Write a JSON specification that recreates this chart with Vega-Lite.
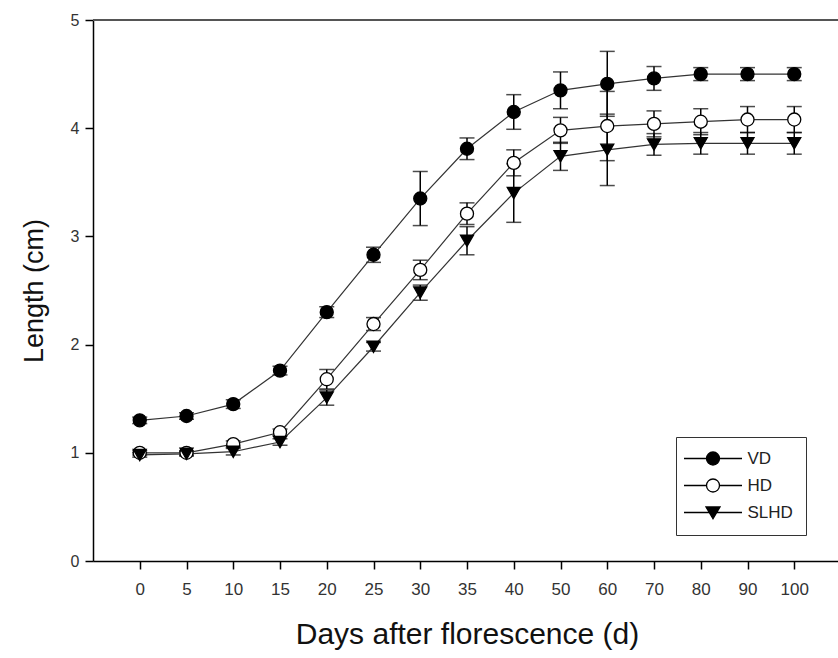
{
  "$schema": "https://vega.github.io/schema/vega-lite/v6.json",
  "width": 748,
  "height": 541,
  "autosize": "none",
  "padding": {"left": 93, "top": 20, "right": 0, "bottom": 97},
  "background": "white",
  "config": {
    "view": {"stroke": null},
    "font": "Liberation Sans",
    "axis": {
      "grid": false,
      "domainColor": "black",
      "domainWidth": 1.5,
      "tickColor": "black",
      "tickWidth": 1.5,
      "tickSize": 8,
      "labelFont": "Liberation Sans",
      "labelColor": "#333",
      "titleFont": "Liberation Sans",
      "titleFontWeight": "normal",
      "titleColor": "#111"
    },
    "legend": {
      "title": null, "orient": "none", "legendX": 583, "legendY": 417,
      "strokeColor": "#333", "padding": 13, "symbolSize": 169, "symbolOffset": 15.5,
      "labelOffset": 26, "labelFontSize": 17, "labelColor": "#222", "labelFont": "Liberation Sans", "rowPadding": 8
    }
  },
  "resolve": {"scale": {"shape": "independent", "fill": "independent", "stroke": "independent"}},
  "data": {
    "values": [
      {"day": 0, "series": "VD", "len": 1.30, "err": 0.03},
      {"day": 5, "series": "VD", "len": 1.34, "err": 0.03},
      {"day": 10, "series": "VD", "len": 1.45, "err": 0.04},
      {"day": 15, "series": "VD", "len": 1.76, "err": 0.04},
      {"day": 20, "series": "VD", "len": 2.30, "err": 0.05},
      {"day": 25, "series": "VD", "len": 2.83, "err": 0.07},
      {"day": 30, "series": "VD", "len": 3.35, "err": 0.25},
      {"day": 35, "series": "VD", "len": 3.81, "err": 0.10},
      {"day": 40, "series": "VD", "len": 4.15, "err": 0.16},
      {"day": 50, "series": "VD", "len": 4.35, "err": 0.17},
      {"day": 60, "series": "VD", "len": 4.41, "err": 0.30},
      {"day": 70, "series": "VD", "len": 4.46, "err": 0.11},
      {"day": 80, "series": "VD", "len": 4.50, "err": 0.06},
      {"day": 90, "series": "VD", "len": 4.50, "err": 0.06},
      {"day": 100, "series": "VD", "len": 4.50, "err": 0.06},
      {"day": 0, "series": "HD", "len": 1.00, "err": 0.02},
      {"day": 5, "series": "HD", "len": 1.00, "err": 0.02},
      {"day": 10, "series": "HD", "len": 1.08, "err": 0.03},
      {"day": 15, "series": "HD", "len": 1.19, "err": 0.03},
      {"day": 20, "series": "HD", "len": 1.68, "err": 0.09},
      {"day": 25, "series": "HD", "len": 2.19, "err": 0.06},
      {"day": 30, "series": "HD", "len": 2.69, "err": 0.09},
      {"day": 35, "series": "HD", "len": 3.21, "err": 0.10},
      {"day": 40, "series": "HD", "len": 3.68, "err": 0.12},
      {"day": 50, "series": "HD", "len": 3.98, "err": 0.12},
      {"day": 60, "series": "HD", "len": 4.02, "err": 0.32},
      {"day": 70, "series": "HD", "len": 4.04, "err": 0.12},
      {"day": 80, "series": "HD", "len": 4.06, "err": 0.12},
      {"day": 90, "series": "HD", "len": 4.08, "err": 0.12},
      {"day": 100, "series": "HD", "len": 4.08, "err": 0.12},
      {"day": 0, "series": "SLHD", "len": 0.98, "err": 0.02},
      {"day": 5, "series": "SLHD", "len": 0.99, "err": 0.02},
      {"day": 10, "series": "SLHD", "len": 1.01, "err": 0.03},
      {"day": 15, "series": "SLHD", "len": 1.10, "err": 0.03},
      {"day": 20, "series": "SLHD", "len": 1.51, "err": 0.07},
      {"day": 25, "series": "SLHD", "len": 1.98, "err": 0.04},
      {"day": 30, "series": "SLHD", "len": 2.48, "err": 0.07},
      {"day": 35, "series": "SLHD", "len": 2.96, "err": 0.13},
      {"day": 40, "series": "SLHD", "len": 3.40, "err": 0.27},
      {"day": 50, "series": "SLHD", "len": 3.74, "err": 0.13},
      {"day": 60, "series": "SLHD", "len": 3.80, "err": 0.33},
      {"day": 70, "series": "SLHD", "len": 3.85, "err": 0.10},
      {"day": 80, "series": "SLHD", "len": 3.86, "err": 0.10},
      {"day": 90, "series": "SLHD", "len": 3.86, "err": 0.10},
      {"day": 100, "series": "SLHD", "len": 3.86, "err": 0.10}
    ]
  },
  "layer": [
    {
      "mark": {"type": "errorbar", "ticks": {"size": 15, "thickness": 1.5, "color": "black"}, "rule": {"strokeWidth": 1.5, "color": "black"}},
      "encoding": {
        "x": {"field": "day", "type": "ordinal", "scale": {"type": "point", "padding": 1},
          "axis": {"title": "Days after florescence (d)", "titleFontSize": 30, "titlePadding": 22, "labelFontSize": 17, "labelPadding": 12, "labelAngle": 0}},
        "y": {"field": "len", "type": "quantitative", "scale": {"domain": [0, 5], "nice": false},
          "axis": {"title": "Length (cm)", "titleFontSize": 27, "titlePadding": 22, "labelFontSize": 16, "labelPadding": 6, "format": "d", "values": [0, 1, 2, 3, 4, 5]}},
        "yError": {"field": "err"}
      }
    },
    {
      "mark": {"type": "line", "color": "#333", "strokeWidth": 1.2},
      "encoding": {
        "x": {"field": "day", "type": "ordinal"},
        "y": {"field": "len", "type": "quantitative", "title": "Length (cm)"},
        "detail": {"field": "series"}
      }
    },
    {
      "mark": {"type": "point", "stroke": "black", "strokeWidth": 1.3, "size": 170, "opacity": 1},
      "encoding": {
        "x": {"field": "day", "type": "ordinal"},
        "y": {"field": "len", "type": "quantitative", "title": "Length (cm)"},
        "fill": {"field": "series", "type": "nominal", "scale": {"domain": ["VD", "HD", "SLHD"], "range": ["black", "white", "black"]}, "legend": null},
        "shape": {"field": "series", "type": "nominal", "scale": {"domain": ["VD", "HD", "SLHD"], "range": ["circle", "circle", "triangle-down"]}, "legend": null}
      }
    },
    {
      "mark": {"type": "point", "strokeWidth": 1.3, "size": 0, "opacity": 1},
      "encoding": {
        "x": {"field": "day", "type": "ordinal"},
        "y": {"field": "len", "type": "quantitative", "title": "Length (cm)"},
        "fill": {"field": "series", "type": "nominal", "scale": {"domain": ["VD", "HD", "SLHD"], "range": ["black", "white", "black"]},
          "legend": {"title": null, "symbolStrokeWidth": 1.3}},
        "stroke": {"field": "series", "type": "nominal", "scale": {"domain": ["VD", "HD", "SLHD"], "range": ["black", "black", "black"]},
          "legend": {"title": null, "symbolStrokeWidth": 1.3}},
        "shape": {"field": "series", "type": "nominal", "scale": {"domain": ["VD", "HD", "SLHD"], "range": [
          "M-4.46,0H-1M1,0H4.46M-1,0A1,1 0 1,0 1,0A1,1 0 1,0 -1,0Z",
          "M-4.46,0H-1M1,0H4.46M-1,0A1,1 0 1,0 1,0A1,1 0 1,0 -1,0Z",
          "M-4.46,0H4.46M-1.08,-0.86L1.08,-0.86L0,0.97Z"]},
          "legend": {"title": null, "symbolStrokeWidth": 1.3}}
      }
    },
    {
      "data": {"values": [{}]},
      "mark": {"type": "rule", "color": "#555", "strokeWidth": 2},
      "encoding": {"y": {"datum": 5}}
    }
  ]
}
